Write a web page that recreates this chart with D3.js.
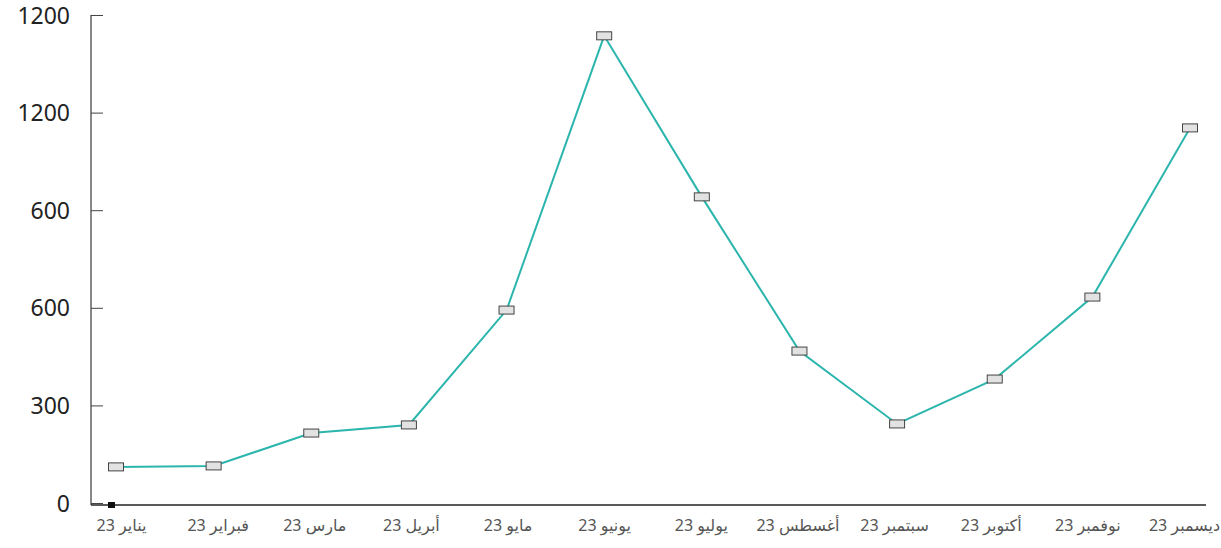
<!DOCTYPE html>
<html>
<head>
<meta charset="utf-8">
<script src="https://cdn.jsdelivr.net/npm/d3@7"></script>
<style>
  body { margin: 0; background: #fff; }
  svg { display: block; }
  svg text { font-family: "Noto Sans", "DejaVu Sans", sans-serif; }
</style>
</head>
<body>
<div id="chart"></div>
<script>
const months = ["يناير 23", "فبراير 23", "مارس 23", "أبريل 23", "مايو 23", "يونيو 23",
  "يوليو 23", "أغسطس 23", "سبتمبر 23", "أكتوبر 23", "نوفمبر 23", "ديسمبر 23"];
const values = [111, 114, 215, 240, 593, 1436, 941, 467, 243, 381, 633, 1153];
const tickValues = [0, 300, 600, 900, 1200, 1500];
const tickLabels = ["0", "300", "600", "600", "1200", "1200"];

const w = 1221, h = 548;
const plotLeft = 91, plotRight = 1206, plotTop = 15, plotBottom = 503;

const svg = d3.select("#chart").append("svg").attr("width", w).attr("height", h);

const x = d3.scalePoint().domain(months).range([116, 1190]);
const xLabel = d3.scalePoint().domain(months).range([121, 1184]);
const y = d3.scaleLinear().domain([0, 1500]).range([plotBottom, plotTop]);

// y axis
const yAxis = svg.append("g").attr("transform", `translate(${plotLeft},0)`)
  .call(d3.axisRight(y).tickValues(tickValues).tickSize(12)
    .tickFormat((d, i) => tickLabels[i]));
yAxis.attr("font-family", null);
yAxis.select(".domain").attr("stroke", "#888").attr("stroke-width", 2)
  .attr("d", `M0,${plotTop}V${plotBottom + 2}`);
yAxis.selectAll(".tick line").attr("stroke", "#444").attr("stroke-width", 1);
yAxis.selectAll(".tick text").attr("x", -21).attr("text-anchor", "end")
  .attr("font-size", 23).attr("fill", "#222").attr("dy", "0.35em");

// x axis
const xAxis = svg.append("g").attr("transform", `translate(0,${plotBottom + 2})`)
  .call(d3.axisBottom(xLabel).tickSize(0).tickPadding(15));
xAxis.attr("font-family", null);
xAxis.select(".domain").attr("stroke", "#222").attr("stroke-width", 1.5)
  .attr("d", `M${plotLeft},0H${plotRight}`);
xAxis.selectAll(".tick text").attr("font-size", 16).attr("fill", "#555");

// origin marker
svg.append("rect").attr("x", 108).attr("y", plotBottom - 1).attr("width", 7).attr("height", 6)
  .attr("fill", "#111");

// line
const line = d3.line().x((d, i) => x(months[i])).y(d => y(d));
svg.append("path").datum(values).attr("d", line)
  .attr("fill", "none").attr("stroke", "#2bb5ac").attr("stroke-width", 2);

svg.selectAll("rect.pt").data(values).enter().append("rect").attr("class", "pt")
  .attr("x", (d, i) => x(months[i]) - 7.5).attr("y", d => y(d) - 4)
  .attr("width", 15).attr("height", 8)
  .attr("fill", "#e2e2e2").attr("stroke", "#444").attr("stroke-width", 1);
</script>
</body>
</html>
